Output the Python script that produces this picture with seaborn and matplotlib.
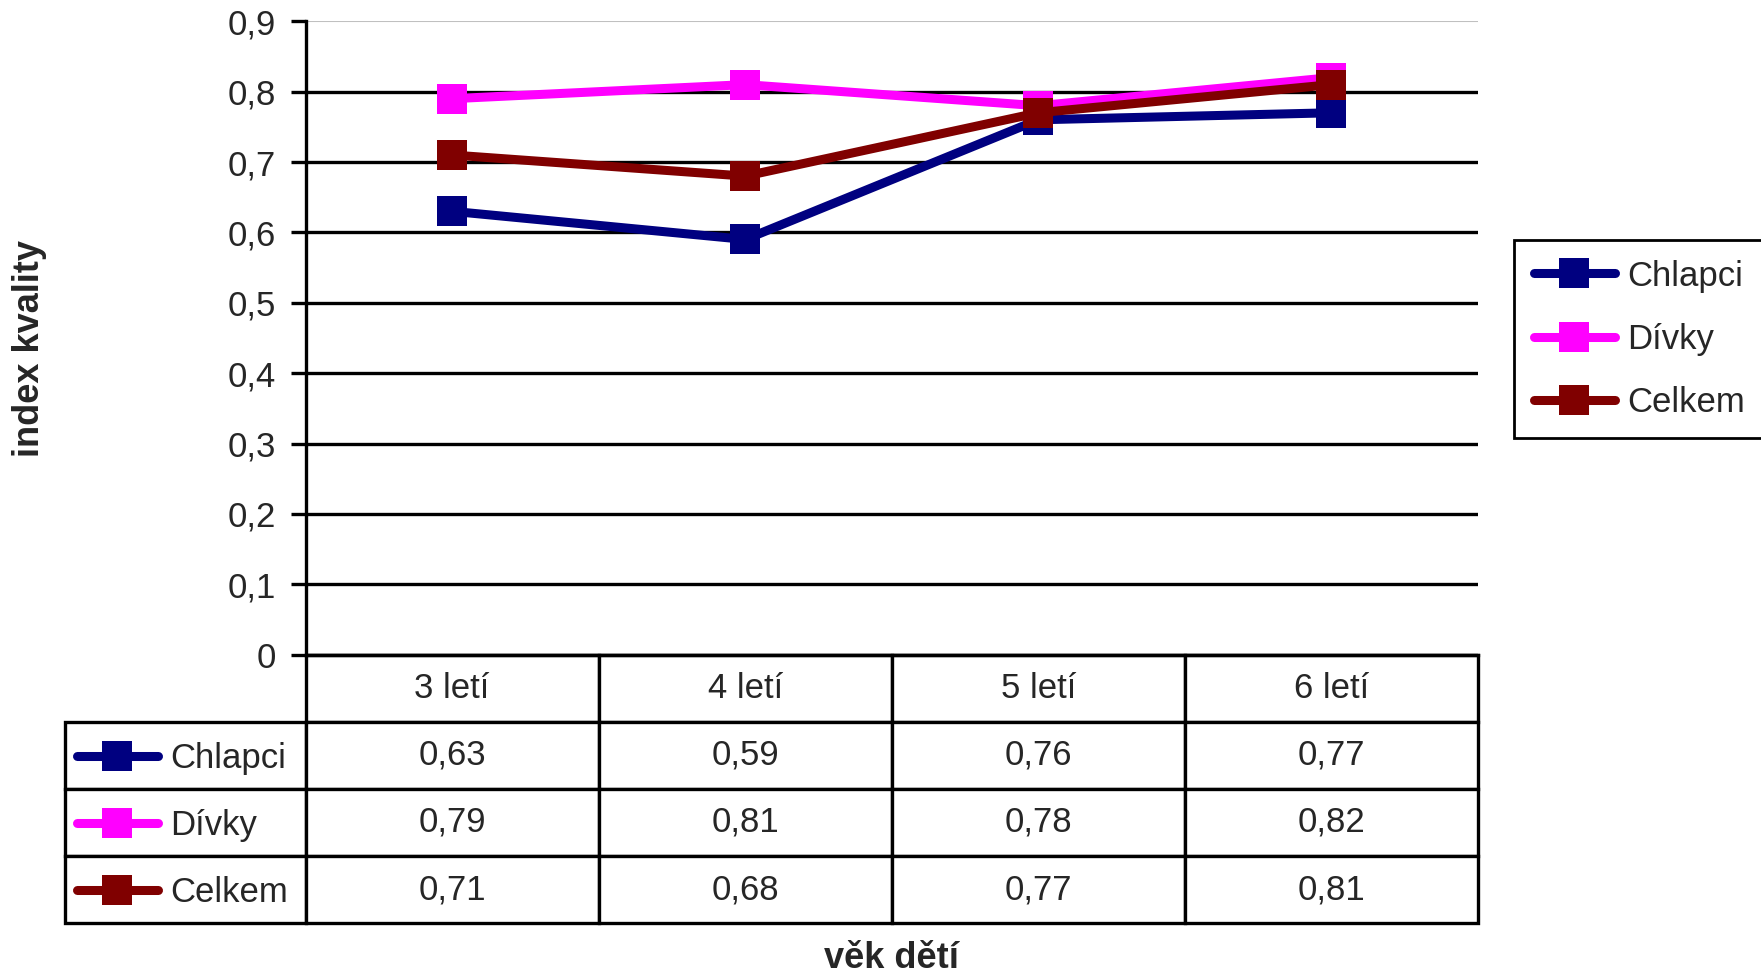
import numpy as np
import pandas as pd
import matplotlib.pyplot as plt
import seaborn as sns

# data
ages = ["3 letí", "4 letí", "5 letí", "6 letí"]
groups = ["Chlapci", "Dívky", "Celkem"]
chlapci = [0.63, 0.59, 0.76, 0.77]
divky = [0.79, 0.81, 0.78, 0.82]
celkem = [0.71, 0.68, 0.77, 0.81]
colors = ["#000080", "#FF00FF", "#800000"]
y_ticks = [0, 0.1, 0.2, 0.3, 0.4, 0.5, 0.6, 0.7, 0.8, 0.9]
y_tick_labels = ["0", "0,1", "0,2", "0,3", "0,4", "0,5", "0,6", "0,7", "0,8", "0,9"]

sns.set_style("white")
plt.rcParams["font.family"] = ["Liberation Sans", "DejaVu Sans"]

df = pd.DataFrame({
    "vek": ages * len(groups),
    "skupina": np.repeat(groups, len(ages)),
    "index": chlapci + divky + celkem,
})

fig = plt.figure(figsize=(17.61, 9.76), dpi=100)
ax = fig.add_axes([0.1735, 0.3292, 0.6658, 0.6490])

sns.lineplot(data=df, x="vek", y="index", hue="skupina", palette=colors,
             marker="s", markersize=21.5, markeredgewidth=0, linewidth=6.5,
             errorbar=None, legend=False, ax=ax)

ax.set_xlim(-0.5, 3.5)
ax.set_ylim(0, 0.9)
ax.set_xticks([])
ax.set_yticks(y_ticks, y_tick_labels, fontsize=25)
ax.tick_params(axis="y", left=True, length=11, width=2.4, pad=10, color="black", direction="out")
ax.set_xlabel("")
ax.set_ylabel("")

# horizontal gridlines, top one light gray
ax.grid(axis="y", color="black", linewidth=2.4)
ax.set_axisbelow(True)
top_line = ax.get_ygridlines()[-1]
top_line.set_color("#c0c0c0")
top_line.set_linewidth(1.5)

for side in ["top", "right"]:
    ax.spines[side].set_visible(False)
for side in ["left", "bottom"]:
    ax.spines[side].set_color("black")
    ax.spines[side].set_linewidth(2.4)

# data table under the plot
fmt = lambda vals: [f"{v:.2f}".replace(".", ",") for v in vals]
cell_text = [[""] + fmt(chlapci), [""] + fmt(divky), [""] + fmt(celkem)]
col_labels = [""] + ages
tab_h = 0.4238
tab = ax.table(cellText=cell_text, colLabels=col_labels,
               colWidths=[0.205, 0.25, 0.25, 0.25, 0.25], cellLoc="center",
               bbox=[-0.205, -tab_h, 1.205, tab_h])
tab.auto_set_font_size(False)
tab.set_fontsize(25)
for (r, c), cell in tab.get_celld().items():
    cell.set_linewidth(2.4)
    cell.set_edgecolor("black")
    cell.get_text().set_va("center")
tab[0, 0].visible_edges = ""

# legend keys inside the table row labels
for i, (line, name) in enumerate(zip(ax.lines, groups)):
    leg = ax.legend([line], [name], loc="center left",
                    bbox_to_anchor=(-0.195, -tab_h * (i + 1.55) / 4),
                    frameon=False, borderaxespad=0, borderpad=0,
                    handlelength=2.33, handletextpad=0.35, fontsize=25)
    ax.add_artist(leg)

leg = ax.legend(ax.lines[:3], groups, loc="upper left",
                bbox_to_anchor=(0.860, 0.754), bbox_transform=fig.transFigure,
                fontsize=25, frameon=True, fancybox=False, edgecolor="black",
                framealpha=1, borderpad=0.56, labelspacing=0.87,
                handlelength=2.33, handletextpad=0.35, borderaxespad=0)
leg.get_frame().set_linewidth(2)

fig.text(0.017, 0.643, "index kvality", rotation=90, ha="center", va="center",
         fontsize=26, fontweight="bold")
fig.text(0.506, 0.018, "věk dětí", ha="center", va="center",
         fontsize=26, fontweight="bold")

fig.savefig("out.png", dpi=100)
